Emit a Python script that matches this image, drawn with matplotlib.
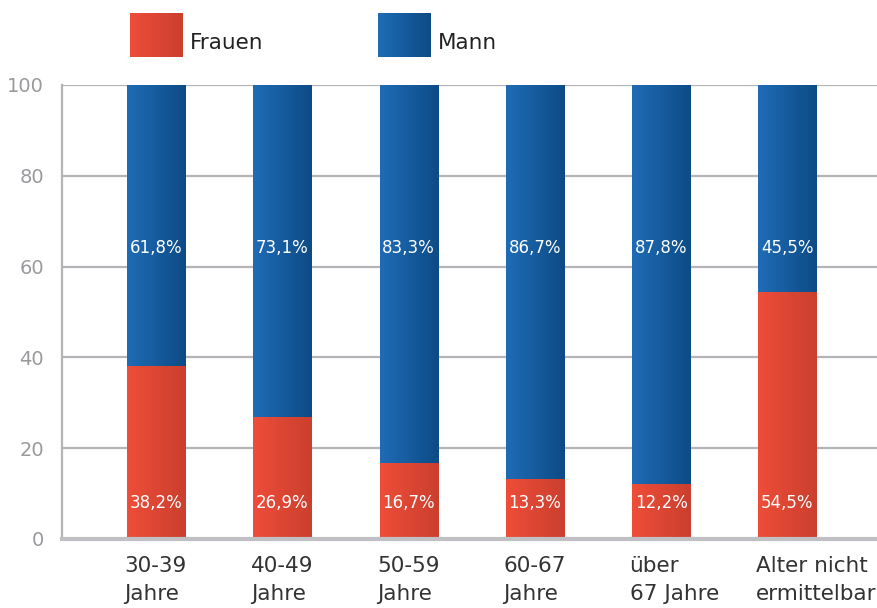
import numpy as np
import matplotlib.pyplot as plt
from matplotlib.colors import LinearSegmentedColormap

plt.rcParams['font.family'] = ['DejaVu Sans']

# data
categories = ["30-39\nJahre", "40-49\nJahre", "50-59\nJahre", "60-67\nJahre",
              "über\n67 Jahre", "Alter nicht\nermittelbar"]
frauen = [38.2, 26.9, 16.7, 13.3, 12.2, 54.5]
mann = [61.8, 73.1, 83.3, 86.7, 87.8, 45.5]
frauen_lbl = ["38,2%", "26,9%", "16,7%", "13,3%", "12,2%", "54,5%"]
mann_lbl = ["61,8%", "73,1%", "83,3%", "86,7%", "87,8%", "45,5%"]
yticks = [0, 20, 40, 60, 80, 100]

red_cm = LinearSegmentedColormap.from_list("red", ["#ee4d39", "#cb3f2e"])
blue_cm = LinearSegmentedColormap.from_list("blue", ["#1f6cb6", "#0d4b86"])
grad = np.linspace(0, 1, 64).reshape(1, -1)

fig = plt.figure(figsize=(8.77, 6.08), dpi=100)
ax = fig.add_axes([62/877, 69/608, 1 - 62/877, 454/608])

x = np.arange(len(categories))
w = 0.46
bf = ax.bar(x, frauen, w, color="none", edgecolor="none")
bm = ax.bar(x, mann, w, bottom=frauen, color="none", edgecolor="none")

# gradient fill for each bar segment
for bars, cm in ((bf, red_cm), (bm, blue_cm)):
    for p in bars:
        x0, y0 = p.get_x(), p.get_y()
        ax.imshow(grad, cmap=cm, aspect="auto", zorder=2,
                  extent=(x0, x0 + p.get_width(), y0, y0 + p.get_height()))

for i in x:
    ax.text(i, 8, frauen_lbl[i], color="white", ha="center", va="center", fontsize=12, zorder=3)
    ax.text(i, 64, mann_lbl[i], color="white", ha="center", va="center", fontsize=12, zorder=3)

ax.set_xlim(-0.745, 5.71)
ax.set_ylim(0, 100)
ax.set_yticks(yticks)
ax.set_yticklabels([str(t) for t in yticks], color="#9a9a9e", fontsize=14)
ax.tick_params(axis="y", length=0, pad=13)
ax.grid(axis="y", color="#b4b4b8", linewidth=1.6, zorder=0)
ax.set_axisbelow(True)

ax.set_xticks(x - w/2 - 0.02)
ax.set_xticklabels(categories, ha="left", fontsize=15.5, color="#333333", linespacing=1.55)
ax.tick_params(axis="x", length=0, pad=12)

for s in ("top", "right"):
    ax.spines[s].set_visible(False)
ax.spines["left"].set_color("#b4b4b8")
ax.spines["left"].set_linewidth(1.6)
ax.spines["bottom"].set_color("#c0c0c4")
ax.spines["bottom"].set_linewidth(3)

# legend
for px, cm, lbl in ((130, red_cm, "Frauen"), (378, blue_cm, "Mann")):
    lax = fig.add_axes([px/877, (608-57)/608, 53/877, 44/608])
    lax.imshow(grad, cmap=cm, aspect="auto")
    lax.axis("off")
    fig.text((px + 60)/877, (608-43)/608, lbl, fontsize=15.5, color="#222222", va="center")

fig.savefig("out.png", dpi=100)
